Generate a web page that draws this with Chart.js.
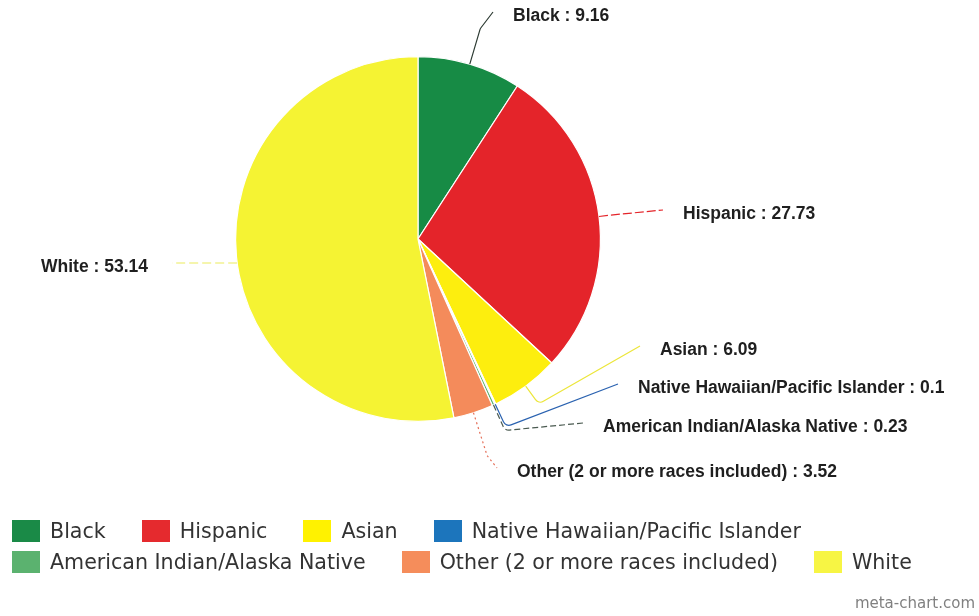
<!DOCTYPE html>
<html><head><meta charset="utf-8">
<script src="https://cdn.jsdelivr.net/npm/chart.js@4"></script>
<style>
html,body{margin:0;padding:0;background:#fff;}
#wrap{position:relative;width:979px;height:616px;overflow:hidden;}
#c{position:absolute;left:0;top:0;}
#legend{position:absolute;left:12px;top:520px;width:967px;display:flex;flex-wrap:wrap;row-gap:9px;font-family:"DejaVu Sans";font-size:20.6px;color:#333;}
.item{display:flex;align-items:center;height:22px;margin-right:36px;white-space:nowrap;}
.box{width:28px;height:22px;margin-right:10px;flex:none;}
#wm{position:absolute;right:4px;top:594px;font-family:"DejaVu Sans";font-size:15px;color:#808080;}
</style></head>
<body><div id="wrap"><canvas id="c" width="979" height="616"></canvas><div id="legend"></div><div id="wm">meta-chart.com</div></div>
<script>
const categories = ["Black", "Hispanic", "Asian", "Native Hawaiian/Pacific Islander", "American Indian/Alaska Native", "Other (2 or more races included)", "White"];
const values = [9.16, 27.73, 6.09, 0.1, 0.23, 3.52, 53.14];

const sliceColors = ["#178b45", "#e4242a", "#fdee0e", "#1c75bc", "#5cb06f", "#f48b5b", "#f5f333"];
const legendColors = ["#1a8a47", "#e52a2e", "#fff200", "#1c75bc", "#5bb26f", "#f58d5b", "#f7f544"];
const leaderColors = ["#2d3b33", "#e4242a", "#ece63a", "#2a62b0", "#4a5a50", "#e5705a", "#ecec5c"];
const leaderDash = [[], [9, 3], [], [], [6, 3], [2, 3], [9, 4]];

// label placement (layout only)
const labelLayout = [
  {x: 513, y: 16, elbow: 37},
  {x: 683, y: 214, elbow: 10},
  {x: 660, y: 350, elbow: 22},
  {x: 638, y: 388, elbow: 25},
  {x: 603, y: 427, elbow: 28},
  {x: 517, y: 472, elbow: 45},
  {x: 148, y: 267, align: 'right', flat: true}
];

const labelPlugin = {
  id: 'leaderLabels',
  afterDatasetsDraw(chart) {
    const ctx = chart.ctx;
    const meta = chart.getDatasetMeta(0);
    ctx.save();
    ctx.font = 'bold 17.5px "Liberation Sans", Arial, sans-serif';
    ctx.textBaseline = 'middle';
    meta.data.forEach((arc, i) => {
      const p = arc.getProps(['x', 'y', 'startAngle', 'endAngle', 'outerRadius'], true);
      const r = p.outerRadius;
      const mid = (p.startAngle + p.endAngle) / 2;
      const L = labelLayout[i];
      const text = categories[i] + ' : ' + values[i];
      const endX = L.align === 'right' ? L.x + 24 : L.x - 20;
      const endY = L.y - 4;
      let sx, sy;
      if (L.flat) {
        const dy = endY - p.y;
        sx = p.x - Math.sqrt(r * r - dy * dy);
        sy = endY;
      } else {
        sx = p.x + Math.cos(mid) * r;
        sy = p.y + Math.sin(mid) * r;
      }
      ctx.strokeStyle = leaderColors[i];
      ctx.lineWidth = 1.2;
      ctx.setLineDash(leaderDash[i]);
      ctx.beginPath();
      ctx.moveTo(sx, sy);
      if (L.elbow) {
        const ex = p.x + Math.cos(mid) * (r + L.elbow);
        const ey = p.y + Math.sin(mid) * (r + L.elbow);
        ctx.arcTo(ex, ey, endX, endY, 6);
      }
      ctx.lineTo(endX, endY);
      ctx.stroke();
      ctx.setLineDash([]);
      ctx.fillStyle = '#1f1f1f';
      ctx.textAlign = L.align === 'right' ? 'right' : 'left';
      ctx.fillText(text, L.x, L.y);
    });
    ctx.restore();
  }
};

new Chart(document.getElementById('c'), {
  type: 'pie',
  data: {
    labels: categories,
    datasets: [{
      data: values,
      backgroundColor: sliceColors,
      borderColor: '#ffffff',
      borderWidth: 1.2
    }]
  },
  options: {
    responsive: false,
    animation: false,
    layout: {padding: {left: 235, right: 378, top: 56, bottom: 194}},
    plugins: {legend: {display: false}, tooltip: {enabled: false}}
  },
  plugins: [labelPlugin]
});

const leg = document.getElementById('legend');
categories.forEach((c, i) => {
  const it = document.createElement('div');
  it.className = 'item';
  const b = document.createElement('span');
  b.className = 'box';
  b.style.background = legendColors[i];
  const t = document.createElement('span');
  t.textContent = c;
  it.appendChild(b); it.appendChild(t);
  leg.appendChild(it);
});
</script>
</body></html>
